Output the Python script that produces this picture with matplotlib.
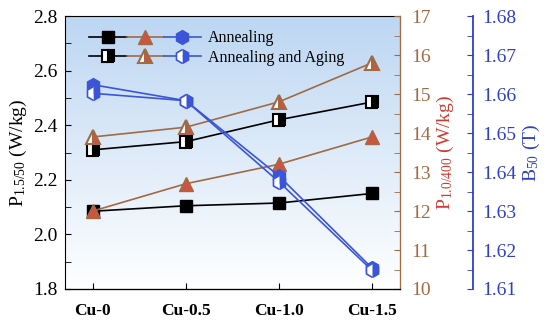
import numpy as np
import matplotlib.pyplot as plt
from matplotlib.legend_handler import HandlerTuple

plt.rcParams['font.family'] = ['Liberation Serif', 'DejaVu Serif']
plt.rcParams['mathtext.fontset'] = 'custom'
plt.rcParams['mathtext.rm'] = 'Liberation Serif'
plt.rcParams['mathtext.it'] = 'Liberation Serif:italic'

# data
samples = ['Cu-0', 'Cu-0.5', 'Cu-1.0', 'Cu-1.5']
p1550_ann = [2.085, 2.105, 2.115, 2.150]
p1550_age = [2.310, 2.340, 2.420, 2.485]
p10400_ann = [12.0, 12.7, 13.2, 13.9]
p10400_age = [13.9, 14.15, 14.8, 15.8]
b50_ann = [1.6624, 1.6583, 1.6390, 1.6154]
b50_age = [1.6602, 1.6583, 1.6375, 1.6148]

black = 'black'
brown = '#a06a45'
tri_red = '#cc5540'
blue = '#3a55d8'
blue_axis = '#2f3fc8'

x = np.arange(len(samples))

fig = plt.figure(figsize=(5.5, 3.22), dpi=100)
ax = fig.add_axes([0.118, 0.1025, 0.609, 0.8475])
ax2 = ax.twinx()
ax3 = ax.twinx()
ax3.spines['right'].set_position(('axes', 1.218))

# gradient background
grad = np.linspace(0, 1, 256).reshape(-1, 1)
top = np.array([0.74, 0.84, 0.95])
bot = np.array([1.0, 1.0, 1.0])
img = bot + (top - bot) * grad
ax.imshow(img[:, None, :].repeat(2, axis=1), extent=[0, 1, 0, 1], origin='lower',
          transform=ax.transAxes, aspect='auto', zorder=0)

ms = 9
lw = 1.2
# P1.5/50 squares
l1, = ax.plot(x, p1550_ann, '-s', color=black, lw=lw, ms=ms, mfc=black, mec=black, zorder=3)
l4, = ax.plot(x, p1550_age, '-s', color=black, lw=lw, ms=ms, mec=black,
              fillstyle='right', mfc=black, mfcalt='white', mew=1.5, zorder=3)
# P1.0/400 triangles
l2, = ax2.plot(x, p10400_ann, '-^', color=brown, lw=lw, ms=ms + 1, mfc=tri_red, mec=brown, zorder=3)
l5, = ax2.plot(x, p10400_age, '-^', color=brown, lw=lw, ms=ms + 1, mec=brown,
               fillstyle='right', mfc=tri_red, mfcalt='white', mew=1.5, zorder=3)
# B50 hexagons
l3, = ax3.plot(x, b50_ann, '-h', color=blue, lw=lw, ms=ms + 1, mfc=blue, mec=blue, zorder=3)
l6, = ax3.plot(x, b50_age, '-h', color=blue, lw=lw, ms=ms + 1, mec=blue,
               fillstyle='right', mfc=blue, mfcalt='white', mew=1.2, zorder=3)

ax.set_xlim(-0.3, 3.3)
ax.set_ylim(1.8, 2.8)
ax2.set_ylim(10, 17)
ax3.set_ylim(1.61, 1.68)

ax.set_xticks(x)
ax.set_xticklabels(samples, fontweight='bold', fontsize=12.5)
ax.set_yticks([1.8, 2.0, 2.2, 2.4, 2.6, 2.8])
ax.set_yticklabels(['1.8', '2.0', '2.2', '2.4', '2.6', '2.8'])
ax.set_yticks(np.arange(1.9, 2.8, 0.2), minor=True)
ax.tick_params(axis='y', which='both', direction='in', labelsize=14, length=4, pad=5)
ax.tick_params(axis='x', direction='in', length=4, pad=10)
ax.set_ylabel(r'P$_{\rm 1.5/50}$ (W/kg)', fontsize=14, labelpad=3)

ax2.set_yticks(np.arange(10, 18, 1))
ax2.set_yticks(np.arange(10.5, 17, 1), minor=True)
ax2.tick_params(axis='y', which='both', direction='in', colors=brown, labelsize=14, length=4, pad=8)
ax2.spines['right'].set_color(brown)
ax2.set_ylabel(r'P$_{\rm 1.0/400}$ (W/kg)', fontsize=14, color='#d03a30', labelpad=3)

ax3.set_yticks(np.arange(1.61, 1.681, 0.01))
ax3.set_yticklabels(['1.61', '1.62', '1.63', '1.64', '1.65', '1.66', '1.67', '1.68'])
ax3.set_yticks(np.arange(1.615, 1.68, 0.01), minor=True)
ax3.tick_params(axis='y', which='both', direction='in', colors=blue_axis, labelsize=14, length=4, pad=7)
ax3.spines['right'].set_color(blue_axis)
ax3.spines['right'].set_linewidth(1.3)
ax3.set_ylabel(r'B$_{\rm 50}$ (T)', fontsize=14, color=blue_axis, labelpad=3)

for a in (ax2, ax3):
    a.spines['left'].set_visible(False)
    a.spines['top'].set_visible(False)

ax.legend([(l1, l2, l3), (l4, l5, l6)], ['Annealing', 'Annealing and Aging'],
          handler_map={tuple: HandlerTuple(ndivide=None, pad=0)},
          handlelength=7.0, frameon=False, loc='upper left', bbox_to_anchor=(0.03, 1.0),
          fontsize=11.5, labelspacing=0.2, handletextpad=0.4, markerscale=1.0)

fig.savefig('out.png', dpi=100)
